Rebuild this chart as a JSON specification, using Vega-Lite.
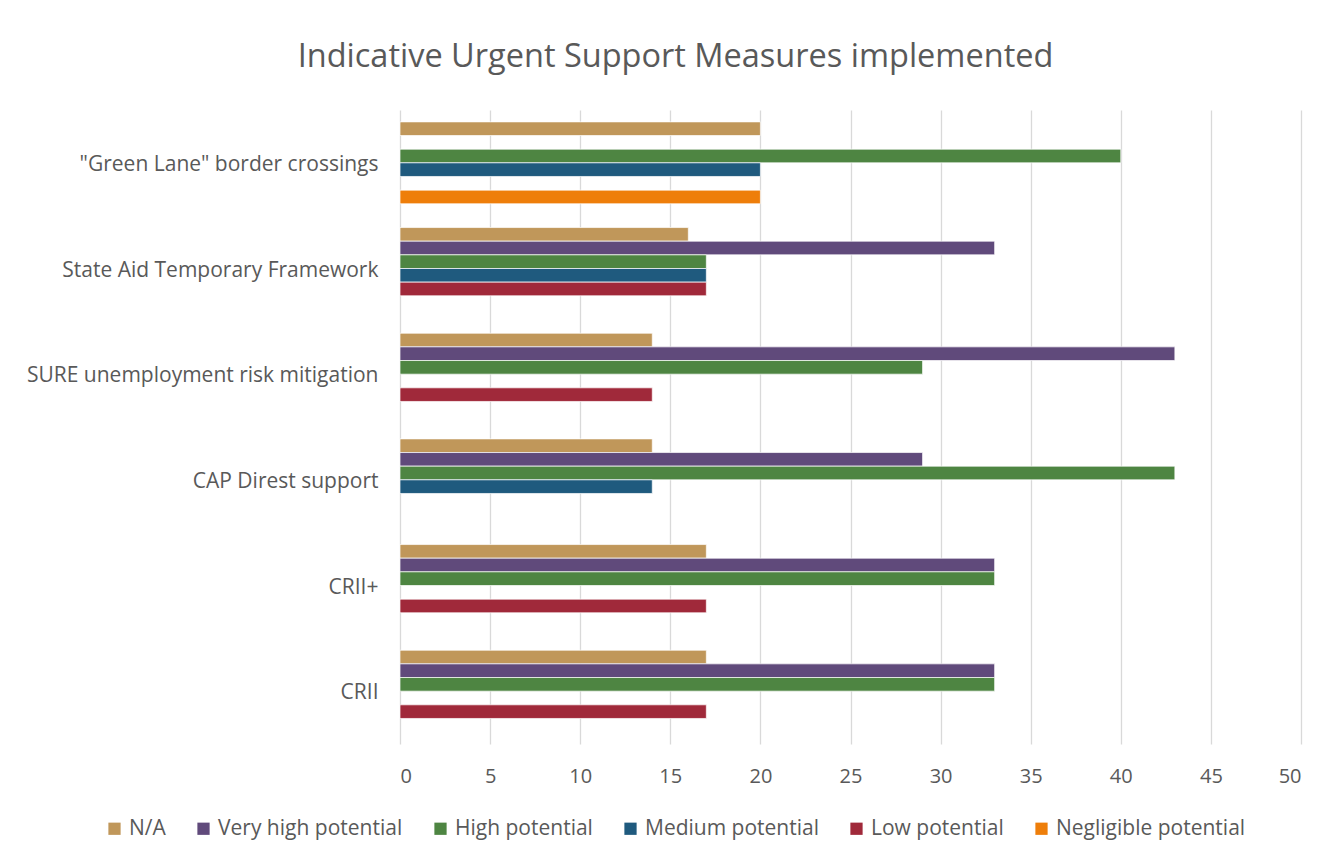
{
  "$schema": "https://vega.github.io/schema/vega-lite/v6.json",
  "autosize": {"type": "none"},
  "padding": {"left": 400, "top": 110, "right": 29, "bottom": 119},
  "width": 901,
  "height": 634,
  "background": "white",
  "title": {
    "text": "Indicative Urgent Support Measures implemented",
    "font": "Open Sans",
    "fontSize": 32.5,
    "fontWeight": "normal",
    "color": "#595959",
    "anchor": "middle",
    "dx": -175,
    "offset": 37
  },
  "data": {
    "values": [
      {"measure": "\"Green Lane\" border crossings", "level": "N/A", "value": 20},
      {"measure": "\"Green Lane\" border crossings", "level": "High potential", "value": 40},
      {"measure": "\"Green Lane\" border crossings", "level": "Medium potential", "value": 20},
      {"measure": "\"Green Lane\" border crossings", "level": "Negligible potential", "value": 20},
      {"measure": "State Aid Temporary Framework", "level": "N/A", "value": 16},
      {"measure": "State Aid Temporary Framework", "level": "Very high potential", "value": 33},
      {"measure": "State Aid Temporary Framework", "level": "High potential", "value": 17},
      {"measure": "State Aid Temporary Framework", "level": "Medium potential", "value": 17},
      {"measure": "State Aid Temporary Framework", "level": "Low potential", "value": 17},
      {"measure": "SURE unemployment risk mitigation", "level": "N/A", "value": 14},
      {"measure": "SURE unemployment risk mitigation", "level": "Very high potential", "value": 43},
      {"measure": "SURE unemployment risk mitigation", "level": "High potential", "value": 29},
      {"measure": "SURE unemployment risk mitigation", "level": "Low potential", "value": 14},
      {"measure": "CAP Direst support", "level": "N/A", "value": 14},
      {"measure": "CAP Direst support", "level": "Very high potential", "value": 29},
      {"measure": "CAP Direst support", "level": "High potential", "value": 43},
      {"measure": "CAP Direst support", "level": "Medium potential", "value": 14},
      {"measure": "CRII+", "level": "N/A", "value": 17},
      {"measure": "CRII+", "level": "Very high potential", "value": 33},
      {"measure": "CRII+", "level": "High potential", "value": 33},
      {"measure": "CRII+", "level": "Low potential", "value": 17},
      {"measure": "CRII", "level": "N/A", "value": 17},
      {"measure": "CRII", "level": "Very high potential", "value": 33},
      {"measure": "CRII", "level": "High potential", "value": 33},
      {"measure": "CRII", "level": "Low potential", "value": 17}
    ]
  },
  "mark": {"type": "bar", "stroke": "white", "strokeWidth": 0.7},
  "encoding": {
    "y": {
      "field": "measure",
      "type": "nominal",
      "sort": ["\"Green Lane\" border crossings", "State Aid Temporary Framework", "SURE unemployment risk mitigation", "CAP Direst support", "CRII+", "CRII"],
      "scale": {"paddingInner": 0.225, "paddingOuter": 0.1125},
      "axis": {
        "title": null,
        "domain": false,
        "ticks": false,
        "grid": false,
        "labelFont": "Open Sans",
        "labelFontSize": 21,
        "labelColor": "#595959",
        "labelPadding": 22,
        "labelOffset": 2,
        "labelLimit": 400
      }
    },
    "yOffset": {
      "field": "level",
      "type": "nominal",
      "sort": ["N/A", "Very high potential", "High potential", "Medium potential", "Low potential", "Negligible potential"],
      "scale": {"domain": ["N/A", "Very high potential", "High potential", "Medium potential", "Low potential", "Negligible potential"], "paddingInner": 0, "paddingOuter": 0}
    },
    "x": {
      "field": "value",
      "type": "quantitative",
      "scale": {"domain": [0, 50], "nice": false},
      "axis": {
        "title": null,
        "values": [0, 5, 10, 15, 20, 25, 30, 35, 40, 45, 50],
        "domain": false,
        "ticks": false,
        "grid": true,
        "gridColor": "#d9d9d9",
        "gridWidth": 1.3,
        "labelFont": "Open Sans",
        "labelFontSize": 20,
        "labelColor": "#595959",
        "labelPadding": 22
      }
    },
    "color": {
      "field": "level",
      "type": "nominal",
      "scale": {
        "domain": ["N/A", "Very high potential", "High potential", "Medium potential", "Low potential", "Negligible potential"],
        "range": ["#C0975A", "#604A7B", "#4E8542", "#1F5A7E", "#A0293A", "#EE7E0A"]
      },
      "legend": {
        "title": null,
        "orient": "none",
        "direction": "horizontal",
        "legendX": -296,
        "legendY": 708,
        "symbolType": "square",
        "symbolSize": 150,
        "symbolStrokeWidth": 0,
        "labelFont": "Open Sans",
        "labelFontSize": 21,
        "labelColor": "#595959",
        "labelOffset": 4,
        "labelLimit": 300,
        "columnPadding": 27
      }
    }
  },
  "config": {
    "view": {"stroke": null}
  }
}
